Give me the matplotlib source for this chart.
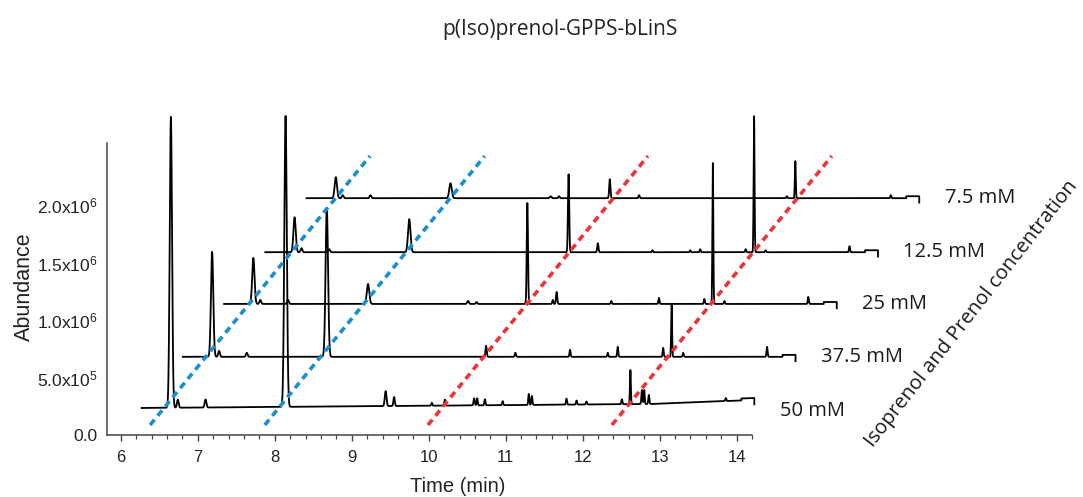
import numpy as np
import matplotlib
matplotlib.use("Agg")
import matplotlib.pyplot as plt
from matplotlib import font_manager
from matplotlib.ticker import FixedLocator, MultipleLocator

# ==== fonts ====
_names = {f.name for f in font_manager.fontManager.ttflist}
AXIS_FONT = "Liberation Sans Narrow" if "Liberation Sans Narrow" in _names else "Liberation Sans"
LABEL_FONT = "Open Sans"
plt.rcParams["font.family"] = ["Liberation Sans", "DejaVu Sans"]
plt.rcParams["mathtext.fontset"] = "custom"
plt.rcParams["mathtext.rm"] = "Liberation Sans"
plt.rcParams["mathtext.it"] = "Liberation Sans"

# ==== data ====
concentrations = ["50 mM", "37.5 mM", "25 mM", "12.5 mM", "7.5 mM"]
baselines = [2.35e5, 6.80e5, 1.14e6, 1.59e6, 2.06e6]   # abundance of each trace's baseline
label_nudge = [-3.0e4, 0, 0, 0, 0]
time_shift = 0.5357                                    # horizontal stagger per trace (min)
t_start, t_end = 6.27, 14.23

# retention times (min) and peak heights above baseline (abundance) per trace
rt = [6.65, 6.74, 7.10, 8.14, 9.44, 9.55, 10.04, 10.21, 10.54, 10.59, 10.63, 10.73,
      10.96, 11.30, 11.34, 11.79, 11.92, 12.05, 12.51, 12.62, 12.77, 12.80, 12.86, 13.86]
peak_width = [0.015, 0.011, 0.011, 0.016, 0.011, 0.009, 0.007, 0.008, 0.007, 0.008, 0.007, 0.007,
              0.007, 0.007, 0.007, 0.007, 0.007, 0.007, 0.007, 0.006, 0.007, 0.006, 0.007, 0.007]
heights = {
    "50 mM":   [2.53e6, 7.0e4, 7.0e4, 2.53e6, 1.30e5, 7.8e4, 2.6e4, 5.2e4, 0, 6.1e4, 6.1e4, 5.2e4,
                3.5e4, 9.6e4, 7.8e4, 5.2e4, 3.5e4, 2.6e4, 4.3e4, 2.96e5, 1.22e5, 1.22e5, 7.8e4, 2.6e4],
    "37.5 mM": [9.13e5, 5.2e4, 3.5e4, 1.296e6, 0, 0, 0, 9.6e4, 0, 3.5e4, 0, 0,
                0, 6.1e4, 0, 3.5e4, 8.7e4, 0, 7.8e4, 4.6e5, 3.5e4, 0, 0, 8.7e4],
    "25 mM":   [4.0e5, 3.5e4, 3.5e4, 1.74e5, 2.6e4, 1.7e4, 0, 8.78e5, 3.5e4, 1.04e5, 0, 0,
                0, 2.6e4, 0, 0, 5.2e4, 0, 4.3e4, 1.226e6, 2.6e4, 0, 0, 6.1e4],
    "12.5 mM": [3.04e5, 3.5e4, 2.6e4, 2.87e5, 0, 0, 0, 6.78e5, 0, 7.8e4, 0, 0,
                0, 1.7e4, 0, 1.7e4, 2.6e4, 0, 2.6e4, 1.183e6, 1.7e4, 0, 0, 5.2e4],
    "7.5 mM":  [1.83e5, 2.6e4, 2.6e4, 1.30e5, 1.7e4, 1.7e4, 0, 1.65e5, 0, 2.6e4, 0, 0,
                0, 0, 0, 0, 0, 0, 1.7e4, 3.22e5, 0, 0, 0, 2.6e4],
}
# slow baseline rise of the 50 mM run
drift_t = [6.27, 11.2, 12.9, 14.23]
drift_v = [0.0, 2.6e4, 3.5e4, 7.0e4]
end_step, end_drop = 1.7e4, 5.5e4

# dotted guides through the isoprenol / prenol related peaks
guide_start = [6.38, 7.87, 9.99, 12.38]
guide_color = ["#1a8fd0", "#1a8fd0", "#ec3437", "#ec3437"]
guide_y0, guide_dt, guide_dy = 8.7e4, 2.857, 2.34e6

ytick_vals = [0, 5e5, 1e6, 1.5e6, 2e6]
ytick_labels = ["0.0", "5.0x10$^{5}$", "1.0x10$^{6}$", "1.5x10$^{6}$", "2.0x10$^{6}$"]

# ==== figure ====
fig = plt.figure(figsize=(10.83, 4.97), dpi=100)
ax = fig.add_axes([107 / 1083, 1 - 435 / 497, 645 / 1083, 292 / 497])

t = np.arange(t_start, t_end, 0.002)
for i, name in enumerate(concentrations):
    y = np.full_like(t, baselines[i])
    for r, w, h in zip(rt, peak_width, heights[name]):
        if h:
            y += h * np.exp(-0.5 * ((t - r) / w) ** 2)
    if i == 0:
        y += np.interp(t, drift_t, drift_v)
    y[t > t_end - 0.17] += end_step
    tx = np.append(t, t[-1]) + i * time_shift
    ty = np.append(y, y[-1] - end_drop)
    ax.plot(tx, ty, color="black", lw=1.3, clip_on=False, zorder=2)
    ax.text(t_end + i * time_shift + 0.33, baselines[i] + label_nudge[i], name,
            fontsize=14.5, family=LABEL_FONT, color="#1a1a1a", va="center", ha="left")

for s, c in zip(guide_start, guide_color):
    ax.plot([s, s + guide_dt], [guide_y0, guide_y0 + guide_dy], color=c, lw=2.6,
            dashes=(1.9, 1.4), dash_capstyle="butt", clip_on=False, zorder=3)

ax.set_xlim(5.82, 14.2)
ax.set_ylim(0, 2.54e6)
ax.xaxis.set_major_locator(MultipleLocator(1))
ax.xaxis.set_minor_locator(MultipleLocator(0.2))
ax.yaxis.set_major_locator(FixedLocator(ytick_vals))
ax.set_yticklabels(ytick_labels)
ax.yaxis.set_minor_locator(FixedLocator([0]))
for sp in ["top", "right"]:
    ax.spines[sp].set_visible(False)
for sp in ["left", "bottom"]:
    ax.spines[sp].set_color("#444444")
    ax.spines[sp].set_linewidth(1.1)
ax.tick_params(axis="x", which="major", length=4.5, width=1.0, color="#444444", pad=6,
               labelsize=12, labelcolor="#222222")
ax.tick_params(axis="x", which="minor", length=3, width=0.9, color="#444444")
ax.tick_params(axis="y", which="major", length=0, pad=7, labelsize=12.5, labelcolor="#222222")
ax.tick_params(axis="y", which="minor", length=4, width=1.0, color="#444444")
for lab in ax.get_xticklabels() + ax.get_yticklabels():
    lab.set_family(AXIS_FONT)

fig.text(24 / 1083, 1 - 287 / 497, "Abundance", rotation=90, fontsize=15.5,
         ha="center", va="center", color="#222222")
fig.text(458 / 1083, 1 - 487 / 497, "Time (min)", fontsize=14.5, family=AXIS_FONT,
         ha="center", va="center", color="#222222")
fig.text(560 / 1083, 1 - 30 / 497, "p(Iso)prenol-GPPS-bLinS", fontsize=15, family=LABEL_FONT,
         ha="center", va="center", color="#222222")
fig.text(972 / 1083, 1 - 314 / 497, "Isoprenol and Prenol concentration", fontsize=14.5,
         family=LABEL_FONT, rotation=52, rotation_mode="anchor", ha="center", va="center",
         color="#1a1a1a")

fig.savefig("out.png", dpi=100)
